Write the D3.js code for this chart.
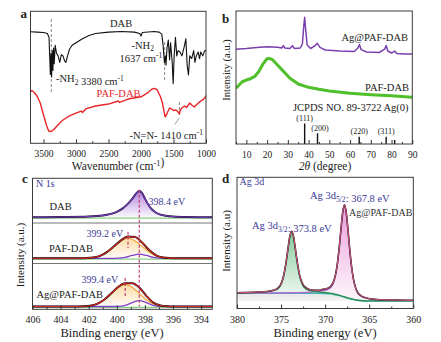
<!DOCTYPE html>
<html><head><meta charset="utf-8">
<script src="https://cdn.jsdelivr.net/npm/d3@7"></script>
<style>body{margin:0;background:#fff}svg{display:block}svg text{font-family:"Liberation Serif","DejaVu Serif",serif}</style>
</head><body><svg id="chart" width="441" height="342"></svg>
<script>
// ---------- DATA ----------
// Panel a: FTIR (wavenumber, relative transmittance)
const ftirDAB = [[3700,84.3],[3600,84],[3500,83.7],[3440,83],[3415,80],[3405,66],[3395,52],[3385,68],[3375,50],[3365,70],[3355,55],[3345,72],[3335,60],[3320,74],[3300,68],[3275,66],[3250,61],[3225,67],[3200,66],[3175,62],[3155,61],[3130,66],[3100,71],[3060,74],[3000,76],[2900,79],[2800,81.5],[2700,83],[2500,84],[2300,84.5],[2100,84],[2020,83],[2000,81],[1980,83.7],[1800,84.5],[1720,84],[1680,82.5],[1660,74],[1640,61],[1625,66],[1615,59],[1600,72],[1580,78],[1560,63],[1545,76],[1520,61],[1505,45],[1490,66],[1470,80],[1450,66],[1430,70],[1400,69],[1370,66],[1330,74],[1310,79],[1290,59],[1270,51.5],[1250,66],[1220,64],[1190,70],[1170,61],[1150,66],[1120,69],[1100,64],[1080,69],[1050,66],[1020,70],[1000,70]];
const ftirPAF = [[3700,38.9],[3680,39.8],[3650,38.6],[3600,35.6],[3550,30.3],[3500,21.2],[3450,12.9],[3420,9.1],[3380,8.7],[3340,10.2],[3300,12.5],[3250,15.2],[3200,17.4],[3100,20.5],[3000,22.7],[2920,24.2],[2900,23.1],[2850,25.8],[2700,28],[2500,29.5],[2350,31.8],[2330,30.7],[2200,33.3],[2000,35],[1900,37.9],[1830,40.9],[1790,41.4],[1750,40.2],[1700,35],[1670,30.3],[1650,25],[1630,19.9],[1610,21.2],[1590,23.5],[1560,26.5],[1530,25.8],[1500,24.6],[1460,25],[1430,23.5],[1410,22],[1395,25],[1370,26.5],[1330,28],[1300,26.9],[1250,30.3],[1220,28.8],[1180,27.3],[1150,28.8],[1100,31.1],[1050,32.6],[1020,34.1],[1000,36]];
const ftirMarkPos = [3380, 1637, 1410];
const ftirMarkSpan = [[38.6,94.7],[47.7,78],[21.2,32.6]];
const ftirTicks = [3500,3000,2500,2000,1500,1000];
const ftirMinor = [3250,2750,2250,1750,1250];

// Panel b: XRD (2theta, intensity)
const xrdAg = [[5,71.2],[10,71.8],[15,72.6],[20,73.2],[25,72.7],[27,72.2],[27.8,73.9],[28.6,72.2],[31,71.8],[32.2,73.9],[33.2,71.8],[36,72.2],[37,75.2],[37.6,87.2],[38.1,95.3],[38.6,85.7],[39.3,74.4],[41,71.8],[43,73.7],[44.2,75.7],[45.5,72.6],[48,70.7],[55,69.9],[62,69.5],[63.8,72.2],[64.5,74.8],[65.3,71],[68,69.2],[74,68.8],[76.7,71.4],[77.4,74.1],[78.2,69.9],[80,68.4],[81.5,69.9],[82.5,68],[86,67.7],[90,67.7]];
const xrdPAF = [[5,41.9],[8,46.8],[10,48.1],[12,49.1],[14,50.8],[16,54.5],[18,60.2],[20,64.1],[21,64.4],[22.5,63.5],[25,59.4],[28,54.4],[31,49.4],[35,45.1],[40,42.6],[45,41.1],[50,39.8],[60,38.1],[70,37.1],[80,36.3],[90,35.1]];
const jcpdsPos = [38.1, 44.3, 64.4, 77.4, 81.5];
const jcpdsInt = [15.5, 8, 5.5, 5.5, 3];
const jcpdsHKL = ["(111)", "(200)", "(220)", "(311)", ""];
const xrdTicks = [10,20,30,40,50,60,70,80,90];
const xrdMinor = [5,15,25,35,45,55,65,75,85];

// Panel c: N 1s XPS (binding energy, normalised intensity)
const n1sDAB = [[406,0],[404,0.01],[402,0.03],[401,0.07],[400.5,0.12],[400,0.21],[399.6,0.33],[399.2,0.52],[398.9,0.7],[398.6,0.92],[398.4,1],[398.2,0.92],[398,0.72],[397.8,0.52],[397.6,0.36],[397.3,0.21],[397,0.12],[396.5,0.06],[396,0.03],[395,0.01],[393.2,0]];
const n1sPAFmain = [[406,0],[402.7,0],[402.2,0.008],[401.7,0.035],[401.2,0.114],[400.7,0.287],[400.2,0.551],[399.7,0.815],[399.2,0.93],[398.7,0.815],[398.2,0.551],[397.7,0.287],[397.2,0.114],[396.7,0.035],[396.2,0.008],[395.7,0],[393.2,0]];
const n1sPAFminor = [[406,0],[400.4,0],[399.9,0.008],[399.4,0.046],[398.9,0.133],[398.4,0.19],[397.9,0.133],[397.4,0.046],[396.9,0.008],[396.4,0],[393.2,0]];
const n1sPAFenv = [[406,0],[402.7,0],[402.2,0.008],[401.7,0.035],[401.2,0.114],[400.7,0.287],[400.2,0.553],[399.7,0.832],[399.2,1.007],[398.7,0.982],[398.2,0.731],[397.7,0.382],[397.2,0.139],[396.7,0.038],[396.2,0.008],[395.7,0],[393.2,0]];
const n1sAgMain = [[406,0],[402.9,0],[402.4,0.008],[401.9,0.034],[401.4,0.11],[400.9,0.277],[400.4,0.533],[399.9,0.789],[399.4,0.9],[398.9,0.789],[398.4,0.533],[397.9,0.277],[397.4,0.11],[396.9,0.034],[396.4,0.008],[395.9,0],[393.2,0]];
const n1sAgMinor = [[406,0],[400.4,0],[399.9,0.006],[399.4,0.047],[398.9,0.159],[398.4,0.24],[397.9,0.159],[397.4,0.047],[396.9,0.006],[396.4,0],[393.2,0]];
const n1sAgEnv = [[406,0],[402.9,0],[402.4,0.008],[401.9,0.034],[401.4,0.11],[400.9,0.277],[400.4,0.533],[399.9,0.795],[399.4,0.947],[398.9,0.948],[398.4,0.773],[397.9,0.436],[397.4,0.157],[396.9,0.04],[396.4,0.008],[395.9,0],[393.2,0]];
const n1sTicks = [406,404,402,400,398,396,394];
const n1sMinor = [405,403,401,399,397,395];

// Panel d: Ag 3d XPS
const ag3dBackground = [[380,0.08],[371,0.08],[370,0.078],[369.5,0.074],[369,0.068],[368.5,0.058],[368,0.045],[367.5,0.03],[367,0.018],[366.5,0.008],[366,0.003],[365,0],[360,0]];
const ag3d32 = [[380,0.084],[378.5,0.087],[377,0.092],[376.3,0.099],[375.8,0.109],[375.4,0.125],[375.1,0.156],[374.8,0.223],[374.6,0.303],[374.4,0.414],[374.2,0.546],[374,0.665],[373.8,0.717],[373.6,0.665],[373.4,0.546],[373.2,0.414],[373,0.303],[372.8,0.223],[372.5,0.156],[372.2,0.125],[371.8,0.109],[371.3,0.099],[370.6,0.091],[369.6,0.083],[369,0.073],[368,0.049],[367,0.021],[366,0.005],[365,0.002],[360,0.001]];
const ag3d52 = [[380,0.082],[376,0.083],[373.8,0.085],[371.8,0.091],[370.8,0.1],[370.3,0.106],[369.8,0.116],[369.4,0.137],[369.1,0.179],[368.8,0.274],[368.6,0.389],[368.4,0.551],[368.2,0.744],[368,0.918],[367.8,0.99],[367.6,0.907],[367.4,0.721],[367.2,0.52],[367,0.351],[366.8,0.228],[366.5,0.121],[366.2,0.072],[365.8,0.045],[365.3,0.029],[364.8,0.02],[363.8,0.011],[362,0.007],[360,0.005]];
const ag3dEnv = [[380,0.085],[378,0.091],[377,0.095],[376.3,0.103],[375.8,0.114],[375.4,0.131],[375.1,0.162],[374.8,0.23],[374.6,0.31],[374.4,0.421],[374.2,0.554],[374,0.673],[373.8,0.722],[373.6,0.674],[373.4,0.556],[373.2,0.425],[373,0.315],[372.8,0.236],[372.5,0.17],[372.2,0.14],[371.8,0.12],[371.3,0.113],[370.8,0.11],[370.3,0.12],[369.8,0.13],[369.4,0.15],[369.1,0.19],[368.8,0.283],[368.6,0.397],[368.4,0.558],[368.2,0.75],[368,0.923],[367.8,0.995],[367.6,0.911],[367.4,0.725],[367.2,0.524],[367,0.354],[366.8,0.231],[366.5,0.124],[366.2,0.075],[365.8,0.047],[365.3,0.031],[364.8,0.022],[363.8,0.013],[362,0.009],[360,0.007]];
const ag3dTicks = [380,375,370,365,360];
const ag3dMinor = [377.5,372.5,367.5,362.5];

// ---------- DRAWING ----------
const SERIF = '"Liberation Serif","DejaVu Serif",serif';
const BLUE = "#3b3b96";
const svg = d3.select("#chart");
const defs = svg.append("defs");

function grad(id, color, op) {
  const g = defs.append("linearGradient").attr("id", id).attr("x1",0).attr("y1",0).attr("x2",0).attr("y2",1);
  g.append("stop").attr("offset","0%").attr("stop-color",color).attr("stop-opacity",op);
  g.append("stop").attr("offset","100%").attr("stop-color",color).attr("stop-opacity",0.05);
}
grad("gPurple", "#9a5fd0", 0.75);
grad("gOrange", "#f7c46a", 0.6);
grad("gGreen", "#3aa85a", 0.6);
grad("gPink", "#e06ac8", 0.65);

function clip(id, x, y, w, h) {
  defs.append("clipPath").attr("id", id).append("rect").attr("x",x).attr("y",y).attr("width",w).attr("height",h);
}

function text(x, y, parts, o = {}) {
  const t = svg.append("text").attr("x", x).attr("y", y)
    .attr("font-size", o.fs || 10.5)
    .attr("fill", o.fill || "#222").attr("text-anchor", o.anchor || "start");
  if (o.weight) t.attr("font-weight", o.weight);
  if (o.rotate) t.attr("transform", `rotate(-90,${x},${y})`);
  if (typeof parts === "string") parts = [[parts]];
  parts.forEach(([s, k]) => {
    if (k === "sub") {
      t.append("tspan").attr("font-size", "0.72em").attr("dy", 2.5).text(s);
      t.append("tspan").attr("dy", -2.5).text("");
    } else if (k === "sup") {
      t.append("tspan").attr("font-size", "0.72em").attr("dy", -4).text(s);
      t.append("tspan").attr("dy", 4).text("");
    } else if (k === "it") {
      t.append("tspan").attr("font-style", "italic").text(s);
    } else {
      t.append("tspan").text(s);
    }
  });
  return t;
}

function xAxis(scale, yPos, majors, minors, fs, labelOff) {
  const g = svg.append("g").attr("transform", `translate(0,${yPos})`)
    .call(d3.axisBottom(scale).tickValues(majors).tickSize(-4).tickFormat(d3.format("d")));
  g.attr("font-family", SERIF).attr("font-size", fs);
  g.select(".domain").remove();
  g.selectAll(".tick line").attr("stroke", "#333");
  g.selectAll(".tick text").attr("dy", 0).attr("y", labelOff).attr("fill", "#222");
  const m = svg.append("g").attr("transform", `translate(0,${yPos})`)
    .call(d3.axisBottom(scale).tickValues(minors).tickSize(-2).tickFormat(""));
  m.select(".domain").remove();
  m.selectAll(".tick line").attr("stroke", "#333");
}

function frame(x, y, w, h) {
  svg.append("rect").attr("x", x).attr("y", y).attr("width", w).attr("height", h)
    .attr("fill", "none").attr("stroke", "#3a3a3a").attr("stroke-width", 1);
}

function path(g, data, xs, ys, color, width, curve, dash) {
  const p = g.append("path").datum(data)
    .attr("d", d3.line().x(d => xs(d[0])).y(d => ys(d[1])).curve(curve || d3.curveLinear))
    .attr("fill", "none").attr("stroke", color).attr("stroke-width", width)
    .attr("stroke-linejoin", "round");
  if (dash) p.attr("stroke-dasharray", dash);
  return p;
}
function area(g, data, xs, ys, fill, curve) {
  g.append("path").datum(data)
    .attr("d", d3.area().x(d => xs(d[0])).y0(ys(0)).y1(d => ys(d[1])).curve(curve || d3.curveLinear))
    .attr("fill", fill).attr("stroke", "none");
}

// ===== Panel a =====
const xa = d3.scaleLinear().domain([3700, 1000]).range([30.5, 206]);
const ya = d3.scaleLinear().domain([0, 100]).range([143, 11]);
clip("clipA", 30.5, 11.3, 175.5, 132);
const ga = svg.append("g").attr("clip-path", "url(#clipA)");
ftirMarkPos.forEach((w, i) => {
  ga.append("line").attr("x1", xa(w)).attr("x2", xa(w))
    .attr("y1", ya(ftirMarkSpan[i][0])).attr("y2", ya(ftirMarkSpan[i][1]))
    .attr("stroke", "#8a8a8a").attr("stroke-width", 1).attr("stroke-dasharray", "3,2");
});
path(ga, ftirDAB, xa, ya, "#111", 1.1);
path(ga, ftirPAF, xa, ya, "#e8262a", 1.4);
ga.append("line").attr("x1", xa(1480)).attr("y1", ya(14)).attr("x2", xa(1410)).attr("y2", ya(19))
  .attr("stroke", "#8a8a8a").attr("stroke-width", 0.8);
frame(30.5, 11.3, 175.5, 132);
xAxis(xa, 143.3, ftirTicks, ftirMinor, 9.5, 13.5);
text(20.5, 18, "a", {fs: 13, weight: "bold"});
text(110, 27, "DAB", {fs: 10.5});
text(131.5, 48.5, [["-NH"], ["2", "sub"]], {fs: 10.5});
text(119.5, 62, [["1637 cm"], ["-1", "sup"]], {fs: 10.5});
text(56, 82, [["-NH"], ["2", "sub"], [" 3380 cm"], ["-1", "sup"]], {fs: 10.5});
text(96.5, 97, "PAF-DAB", {fs: 10.5, fill: "#e8262a"});
text(129.5, 138.5, [["-N=N- 1410 cm"], ["-1", "sup"]], {fs: 10.5});
text(118, 169.5, [["Wavenumber (cm"], ["-1", "sup"], [")"]], {fs: 11.5, anchor: "middle"});

// ===== Panel b =====
const xb = d3.scaleLinear().domain([5, 90]).range([236, 412.3]);
const yb = d3.scaleLinear().domain([0, 100]).range([144, 11]);
clip("clipB", 236, 11, 176.3, 133);
const gb = svg.append("g").attr("clip-path", "url(#clipB)");
path(gb, xrdPAF, xb, yb, "#4fbf2a", 3);
path(gb, xrdAg, xb, yb, "#7a3fae", 1.5);
jcpdsPos.forEach((p, i) => {
  gb.append("line").attr("x1", xb(p)).attr("x2", xb(p)).attr("y1", yb(0)).attr("y2", yb(jcpdsInt[i]))
    .attr("stroke", "#111").attr("stroke-width", 1.4);
  if (jcpdsHKL[i]) text(xb(p) + (i === 1 ? 2.5 : 0), yb(jcpdsInt[i]) - 2.5, jcpdsHKL[i], {fs: 8, anchor: "middle"});
});
frame(236, 11, 176.3, 133);
xAxis(xb, 144, xrdTicks, xrdMinor, 9.5, 13.5);
text(222, 23, "b", {fs: 13, weight: "bold"});
text(341.5, 41, "Ag@PAF-DAB", {fs: 10.5});
text(365, 91, "PAF-DAB", {fs: 10.5});
text(293, 111, "JCPDS NO. 89-3722 Ag(0)", {fs: 10.5});
text(229.5, 70, "Intensity (a.u.)", {fs: 10.5, anchor: "middle", rotate: true});
text(325, 169.5, [["2θ", "it"], [" (degree)"]], {fs: 11.5, anchor: "middle"});

// ===== Panel c =====
const xc = d3.scaleLinear().domain([406, 393.2]).range([32.5, 212.3]);
const ycDAB = d3.scaleLinear().domain([0, 1]).range([217.3, 191]);
const ycPAF = d3.scaleLinear().domain([0, 1]).range([258.3, 236.7]);
const ycAg = d3.scaleLinear().domain([0, 1]).range([306.5, 282]);
clip("clipC", 32.5, 178.3, 179.8, 131);
const gc = svg.append("g").attr("clip-path", "url(#clipC)");
const mono = d3.curveMonotoneX;
// DAB
area(gc, n1sDAB, xc, ycDAB, "url(#gPurple)", mono);
gc.append("line").attr("x1", xc(406)).attr("x2", xc(393.2)).attr("y1", ycDAB(0) + 0.8).attr("y2", ycDAB(0) + 0.8).attr("stroke", "#6cc46c").attr("stroke-width", 1);
path(gc, n1sDAB, xc, ycDAB, "#1a1030", 1.9, mono);
path(gc, n1sDAB, xc, ycDAB, "#7a3cc0", 1.1, mono);
// PAF-DAB
area(gc, n1sPAFmain, xc, ycPAF, "url(#gOrange)", mono);
gc.append("line").attr("x1", xc(406)).attr("x2", xc(393.2)).attr("y1", ycPAF(0) + 0.8).attr("y2", ycPAF(0) + 0.8).attr("stroke", "#6cc46c").attr("stroke-width", 1);
path(gc, n1sPAFminor, xc, ycPAF, "#8040c8", 1.3, mono);
path(gc, n1sPAFmain, xc, ycPAF, "#f5a53a", 1.2, mono);
path(gc, n1sPAFenv, xc, ycPAF, "#111", 2, mono);
path(gc, n1sPAFenv, xc, ycPAF, "#e5251f", 1.1, mono);
// Ag@PAF-DAB
area(gc, n1sAgMain, xc, ycAg, "url(#gOrange)", mono);
gc.append("line").attr("x1", xc(406)).attr("x2", xc(393.2)).attr("y1", ycAg(0) + 0.8).attr("y2", ycAg(0) + 0.8).attr("stroke", "#6cc46c").attr("stroke-width", 1);
path(gc, n1sAgMinor, xc, ycAg, "#8040c8", 1.3, mono);
path(gc, n1sAgMain, xc, ycAg, "#f5a53a", 1.2, mono);
path(gc, n1sAgEnv, xc, ycAg, "#111", 2, mono);
path(gc, n1sAgEnv, xc, ycAg, "#e5251f", 1.1, mono);
// dashed markers
const DASHC = "#c0306a";
gc.append("line").attr("x1", xc(398.4)).attr("x2", xc(398.4)).attr("y1", ycDAB(1.05)).attr("y2", ycAg(0))
  .attr("stroke", DASHC).attr("stroke-width", 1.1).attr("stroke-dasharray", "3,2");
gc.append("line").attr("x1", xc(399.2)).attr("x2", xc(399.2)).attr("y1", ycPAF(1.23)).attr("y2", ycPAF(0.48))
  .attr("stroke", DASHC).attr("stroke-width", 1.1).attr("stroke-dasharray", "3,2");
gc.append("line").attr("x1", xc(399.4)).attr("x2", xc(399.4)).attr("y1", ycAg(1.16)).attr("y2", ycAg(0.4))
  .attr("stroke", DASHC).attr("stroke-width", 1.1).attr("stroke-dasharray", "3,2");
// separators
[223, 263.5].forEach(yy => {
  svg.append("line").attr("x1", 32.5).attr("x2", 212.3).attr("y1", yy).attr("y2", yy).attr("stroke", "#777").attr("stroke-width", 1);
});
frame(32.5, 178.3, 179.8, 131);
xAxis(xc, 309.3, n1sTicks, n1sMinor, 10, 14);
text(22, 183, "c", {fs: 13, weight: "bold"});
text(36, 187, "N 1s", {fs: 10, fill: BLUE});
text(49.5, 210, "DAB", {fs: 10.5});
text(148.5, 204.5, "398.4 eV", {fs: 10, fill: BLUE});
text(86.5, 237, "399.2 eV", {fs: 10, fill: BLUE});
text(49, 251.5, "PAF-DAB", {fs: 10.5});
text(81.5, 283, "399.4 eV", {fs: 10, fill: BLUE});
text(36.5, 297.5, "Ag@PAF-DAB", {fs: 10.5});
text(24, 255, "Intensity (a.u.)", {fs: 11, anchor: "middle", rotate: true});
text(112, 337, "Binding energy (eV)", {fs: 12.5, anchor: "middle"});

// ===== Panel d =====
const xd = d3.scaleLinear().domain([380, 360]).range([237, 413.3]);
const yd = d3.scaleLinear().domain([0, 1]).range([301, 204.3]);
clip("clipD", 237, 177.3, 176.3, 131.2);
const gd = svg.append("g").attr("clip-path", "url(#clipD)");
area(gd, ag3d32, xd, yd, "url(#gGreen)", mono);
area(gd, ag3d52, xd, yd, "url(#gPink)", mono);
path(gd, ag3dBackground, xd, yd, "#3cbcb0", 1.5, mono);
path(gd, ag3d52, xd, yd, "#b06ad0", 1.4, mono);
path(gd, ag3d32, xd, yd, "#2e8b50", 1.3, mono);
path(gd, ag3dEnv, xd, yd, "#222", 1.6, mono);
path(gd, ag3dEnv, xd, yd, "#ee5a8a", 0.9, mono);
frame(237, 177.3, 176.3, 131.2);
xAxis(xd, 308.5, ag3dTicks, ag3dMinor, 10, 14);
text(222, 183, "d", {fs: 13, weight: "bold"});
text(239.5, 185, "Ag 3d", {fs: 10, fill: BLUE});
text(310, 199, [["Ag 3d"], ["5/2", "sub"], [": 367.8 eV"]], {fs: 10.5, fill: BLUE});
text(349, 215.5, "Ag@PAF-DAB", {fs: 10, fill: "#333"});
text(252, 229, [["Ag 3d"], ["3/2", "sub"], [": 373.8 eV"]], {fs: 10.5, fill: BLUE});
text(229.5, 241, "Intensity (a.u)", {fs: 11, anchor: "middle", rotate: true});
text(325, 337, "Binding energy (eV)", {fs: 12.5, anchor: "middle"});
</script></body></html>
